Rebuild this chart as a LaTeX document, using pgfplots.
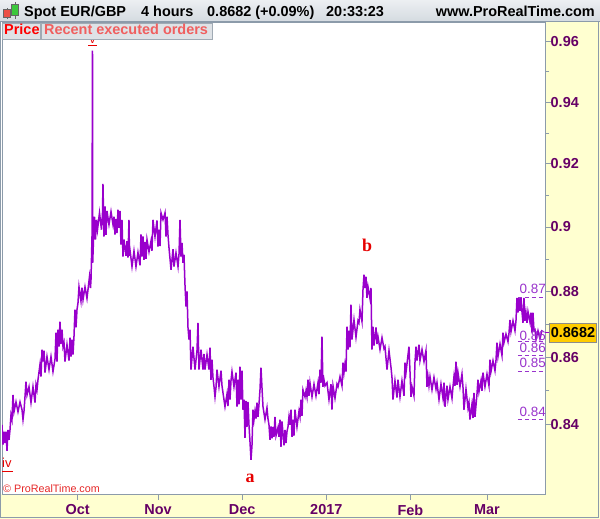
\documentclass[border=0pt]{standalone}
\usepackage{fontspec}
\setmainfont{Liberation Sans}
\newfontfamily\wavefont{Liberation Serif}
\usepackage{pgfplots}
\pgfplotsset{compat=1.18}
\definecolor{panel}{RGB}{255,255,208}
\definecolor{frame}{RGB}{140,155,170}
\definecolor{tickc}{RGB}{102,0,102}
\definecolor{bar}{RGB}{153,0,204}
\definecolor{levelc}{RGB}{153,51,204}
\definecolor{wavered}{RGB}{230,0,0}
\definecolor{copyred}{RGB}{230,40,40}
\definecolor{hdtop}{RGB}{236,239,242}
\definecolor{hdbot}{RGB}{212,218,224}
\definecolor{tabfill}{RGB}{222,226,230}
\definecolor{tabline}{RGB}{160,170,180}
\definecolor{tabred}{RGB}{240,95,95}
\definecolor{pricebox}{RGB}{255,204,0}
\definecolor{candred}{RGB}{235,80,70}
\definecolor{candgreen}{RGB}{60,200,60}

\begin{document}
\begin{tikzpicture}[x=1bp,y=1bp]
\path[use as bounding box] (0,0) rectangle (600,519);
\fill[white] (0,0) rectangle (600,519);
\fill[panel] (545,0) rectangle (600,497);
\fill[panel] (0,0) rectangle (600,25);
\draw[frame, line width=1bp] (0.5,497) -- (0.5,1.5) -- (598.5,1.5) -- (598.5,519);

\begin{axis}[
  at={(2bp,25bp)}, anchor=south west, scale only axis,
  width=543bp, height=472bp,
  xmin=-19.79, xmax=122.18,
  % price scale is logarithmic
  y coord trafo/.code={\pgfmathparse{ln(#1)}},
  y coord inv trafo/.code={\pgfmathparse{exp(#1)}},
  ymin=0.82003, ymax=0.9667,
  axis background/.style={fill=white},
  axis line style={draw=frame, line width=0.8bp},
  tick style={draw=frame, line width=0.8bp},
  tick align=outside, major tick length=6bp, minor tick length=4bp,
  xtick pos=bottom, ytick pos=right, yticklabel pos=right,
  xtick={0,21,43,65,87,107}, xticklabels={Oct,Nov,Dec,2017,Feb,Mar},
  ytick={0.84,0.86,0.88,0.9,0.92,0.94,0.96},
  yticklabels={0.84,0.86,0.88,0.9,0.92,0.94,0.96},
  minor ytick={0.85,0.87,0.89,0.91,0.93,0.95},
  tick label style={font=\bfseries\fontsize{14.5}{16}\selectfont, text=tickc},
  yticklabel style={anchor=west, inner sep=0pt, xshift=-0.5bp},
  xticklabel style={anchor=north, inner sep=0pt, yshift=-4.5bp},
]
% 4-hour high/low range, traced as a zigzag (x = trading days from 3 Oct 2016)
\addplot[bar, line width=1.5bp, line join=miter] coordinates {
(-19.79,.8400) (-19.53,.8342) (-19.27,.8380) (-19.01,.8347) (-18.74,.8380) (-18.48,.8324)
(-18.22,.8385) (-17.96,.8356) (-17.70,.8385) (-17.44,.8429) (-17.18,.8415) (-16.91,.8488)
(-16.65,.8438) (-16.13,.8467) (-15.61,.8438) (-15.08,.8467) (-14.56,.8444) (-14.30,.8415)
(-14.04,.8440) (-13.78,.8482) (-13.52,.8527) (-13.25,.8488) (-12.73,.8512) (-12.21,.8465)
(-11.69,.8512) (-11.16,.8465) (-10.90,.8518) (-10.64,.8503) (-10.38,.8533) (-9.86,.8578)
(-9.60,.8542) (-9.33,.8623) (-9.07,.8587) (-8.81,.8620) (-8.55,.8554) (-8.03,.8602)
(-7.50,.8563) (-6.98,.8602) (-6.46,.8557) (-5.93,.8595) (-5.67,.8674) (-5.41,.8587)
(-5.15,.8683) (-4.89,.8632) (-4.63,.8707) (-4.37,.8640) (-4.10,.8683) (-3.84,.8632)
(-3.58,.8644) (-3.32,.8587) (-2.80,.8638) (-2.27,.8590) (-2.01,.8659) (-1.75,.8602)
(-1.49,.8653) (-1.23,.8608) (-0.97,.8662) (-0.71,.8744) (-0.44,.8690) (-0.18,.8744)
(0.08,.8765) (0.34,.8814) (0.86,.8770) (1.12,.8811) (1.39,.8774) (1.91,.8814)
(2.43,.8778) (2.69,.8805) (3.08,.8845) (3.35,.8810) (3.48,.8836) (3.74,.8969)
(3.87,.9570) (3.93,.8888) (4.13,.8960) (4.39,.9032) (4.65,.8960) (4.92,.9022)
(5.18,.8991) (5.70,.9044) (6.22,.8991) (6.48,.9040) (6.61,.9136) (6.87,.8969)
(7.14,.9064) (7.40,.8975) (7.66,.9050) (8.18,.9007) (8.71,.9048) (9.23,.9007)
(9.49,.9032) (9.75,.8976) (10.01,.9025) (10.27,.8980) (10.53,.9054) (10.80,.8997)
(11.06,.9050) (11.32,.8944) (11.58,.9022) (11.84,.8907) (12.10,.8960) (12.63,.8910)
(12.89,.8955) (13.15,.8904) (13.41,.9022) (13.54,.8910) (13.67,.8928) (14.20,.8876)
(14.72,.8925) (15.24,.8876) (15.76,.8920) (16.29,.8880) (16.55,.8976) (16.81,.8907)
(17.07,.8970) (17.33,.8897) (17.60,.8953) (17.86,.8900) (18.12,.8960) (18.64,.8922)
(19.16,.8955) (19.42,.8925) (19.68,.9022) (20.21,.8969) (20.73,.9020) (20.99,.8938)
(21.25,.8991) (21.52,.8940) (21.78,.9044) (22.30,.9022) (22.83,.9044) (23.09,.8969)
(23.35,.9032) (23.61,.8975) (23.87,.8935) (24.40,.8866) (24.92,.8930) (25.18,.8876)
(25.70,.8919) (26.23,.8876) (26.49,.8915) (26.75,.9022) (27.01,.8907) (27.27,.8950)
(27.53,.8888) (27.79,.8913) (28.05,.8820) (28.32,.8753) (28.58,.8800) (28.84,.8689)
(29.10,.8653) (29.36,.8683) (29.62,.8563) (30.14,.8632) (30.67,.8563) (31.19,.8620)
(31.45,.8704) (31.71,.8563) (32.24,.8623) (32.76,.8563) (33.02,.8610) (33.28,.8563)
(33.81,.8608) (34.33,.8563) (34.59,.8629) (34.85,.8533) (35.11,.8593) (35.37,.8540)
(35.64,.8512) (35.90,.8482) (36.16,.8510) (36.42,.8563) (36.94,.8512) (37.47,.8560)
(37.73,.8515) (37.99,.8494) (38.51,.8453) (39.03,.8490) (39.29,.8455) (39.56,.8533)
(39.82,.8474) (40.08,.8530) (40.34,.8557) (40.86,.8512) (41.39,.8554) (41.65,.8453)
(41.91,.8533) (42.17,.8460) (42.43,.8572) (42.69,.8474) (42.96,.8560) (43.22,.8444)
(43.48,.8474) (43.74,.8362) (44.00,.8470) (44.26,.8394) (44.52,.8467) (44.78,.8400)
(45.05,.8350) (45.31,.8298) (45.57,.8340) (45.83,.8444) (46.09,.8415) (46.35,.8440)
(46.62,.8418) (46.88,.8465) (47.14,.8423) (47.40,.8460) (47.66,.8503) (47.92,.8569)
(48.18,.8510) (48.45,.8453) (48.97,.8415) (49.49,.8450) (49.75,.8418) (50.01,.8400)
(50.28,.8356) (50.54,.8395) (50.80,.8360) (51.06,.8394) (51.32,.8365) (51.58,.8423)
(51.85,.8368) (52.37,.8392) (52.63,.8365) (52.89,.8415) (53.15,.8336) (53.41,.8410)
(53.94,.8340) (54.20,.8385) (54.46,.8347) (54.72,.8380) (54.98,.8394) (55.24,.8423)
(55.50,.8400) (55.77,.8444) (56.03,.8365) (56.29,.8415) (56.55,.8368) (56.81,.8444)
(57.33,.8394) (57.86,.8440) (58.12,.8423) (58.38,.8474) (58.64,.8426) (58.90,.8503)
(59.43,.8482) (59.69,.8500) (59.95,.8482) (60.21,.8533) (60.47,.8485) (60.73,.8524)
(61.26,.8482) (61.78,.8520) (62.30,.8485) (62.83,.8524) (63.09,.8490) (63.35,.8563)
(63.61,.8524) (63.87,.8662) (64.13,.8512) (64.39,.8533) (64.66,.8515) (65.18,.8524)
(65.70,.8474) (66.22,.8520) (66.48,.8444) (66.75,.8515) (67.27,.8478) (67.79,.8520)
(68.06,.8512) (68.58,.8542) (69.10,.8515) (69.36,.8584) (69.62,.8554) (69.88,.8580)
(70.15,.8557) (70.41,.8692) (70.67,.8623) (70.93,.8680) (71.19,.8630) (71.45,.8759)
(71.71,.8653) (72.24,.8713) (72.76,.8660) (73.28,.8710) (73.54,.8704) (73.80,.8744)
(74.33,.8708) (74.59,.8805) (74.85,.8851) (75.11,.8810) (75.37,.8845) (75.63,.8780)
(75.90,.8814) (76.42,.8778) (76.68,.8810) (76.94,.8623) (77.20,.8692) (77.47,.8635)
(77.99,.8690) (78.25,.8640) (78.51,.8662) (79.04,.8623) (79.56,.8659) (80.08,.8626)
(80.34,.8632) (80.87,.8563) (81.39,.8620) (81.91,.8570) (82.17,.8540) (82.43,.8474)
(82.95,.8530) (83.48,.8480) (83.74,.8533) (84.26,.8482) (84.78,.8530) (85.31,.8485)
(85.57,.8584) (85.83,.8554) (86.09,.8580) (86.61,.8632) (86.88,.8557) (87.14,.8482)
(87.40,.8512) (87.92,.8485) (88.18,.8584) (88.45,.8632) (88.71,.8590) (89.23,.8638)
(89.49,.8590) (90.02,.8623) (90.54,.8587) (91.06,.8620) (91.32,.8512) (91.58,.8542)
(91.84,.8515) (92.11,.8542) (92.63,.8503) (93.15,.8540) (93.68,.8505) (93.94,.8524)
(94.46,.8474) (94.98,.8520) (95.51,.8478) (95.77,.8524) (96.03,.8453) (96.55,.8515)
(96.81,.8474) (97.34,.8512) (97.86,.8478) (98.12,.8512) (98.38,.8542) (98.64,.8515)
(98.90,.8587) (99.17,.8518) (99.43,.8554) (99.95,.8512) (100.47,.8550) (100.73,.8512)
(100.99,.8444) (101.52,.8505) (102.04,.8450) (102.30,.8465) (102.56,.8415) (103.08,.8460)
(103.35,.8420) (103.61,.8494) (103.87,.8423) (104.39,.8490) (104.65,.8533) (104.91,.8497)
(105.44,.8530) (105.70,.8500) (105.96,.8554) (106.48,.8512) (107.01,.8550) (107.53,.8515)
(107.79,.8593) (108.05,.8557) (108.58,.8590) (109.10,.8560) (109.36,.8590) (109.62,.8644)
(109.88,.8602) (110.41,.8640) (110.93,.8605) (111.19,.8674) (111.45,.8644) (111.97,.8670)
(112.50,.8647) (112.76,.8672) (113.02,.8713) (113.28,.8677) (113.81,.8710) (114.33,.8680)
(114.59,.8710) (114.85,.8780) (115.11,.8735) (115.37,.8780) (115.64,.8740) (115.90,.8780)
(116.16,.8738) (116.42,.8704) (116.68,.8780) (116.94,.8710) (117.20,.8735) (117.47,.8704)
(117.73,.8738) (118.25,.8706) (118.51,.8735) (118.77,.8674) (119.03,.8735) (119.30,.8680)
(119.56,.8683) (119.82,.8653) (120.34,.8680) (120.86,.8655) (121.39,.8682)
};
% recent swing levels
\addplot[levelc, line width=1bp, dash pattern=on 4bp off 3bp] coordinates {(115.1,.8780) (122.18,.8780)};
\addplot[levelc, line width=1bp, dash pattern=on 4bp off 3bp] coordinates {(115.1,.8647) (122.18,.8647)};
\addplot[levelc, line width=1bp, dash pattern=on 4bp off 3bp] coordinates {(115.1,.8605) (122.18,.8605)};
\addplot[levelc, line width=1bp, dash pattern=on 4bp off 3bp] coordinates {(115.1,.8557) (122.18,.8557)};
\addplot[levelc, line width=1bp, dash pattern=on 4bp off 3bp] coordinates {(115.1,.8415) (122.18,.8415)};
\end{axis}

% level labels (cut at the price scale)
\begin{scope}[every node/.style={anchor=base west, inner sep=0pt, text=levelc, font=\fontsize{13.5}{14}\selectfont}]
\node at (519.5,225) {0.87};
\node at (519.5,178) {0.86};
\node at (519.5,166) {0.86};
\node at (519.5,151) {0.85};
\node at (519.5,102) {0.84};
\end{scope}

% wave labels
\node[text=wavered, font=\wavefont\bfseries\fontsize{18}{18}\selectfont, inner sep=0pt] at (250,41) {a};
\node[text=wavered, font=\wavefont\bfseries\fontsize{18}{18}\selectfont, inner sep=0pt] at (367,274) {b};
\node[anchor=base west, inner sep=0pt, text=wavered, font=\fontsize{13}{13}\selectfont] at (2,51) {iv};
\draw[wavered, line width=1bp] (2,47) -- (13,47);
\node[anchor=base, inner sep=0pt, text=wavered, font=\bfseries\fontsize{7}{7}\selectfont] at (92.5,475.5) {v};
\draw[wavered, line width=1bp] (88,473) -- (97,473);
\node[anchor=base west, inner sep=0pt, text=copyred, font=\fontsize{10.8}{11}\selectfont] at (3,26.5) {© ProRealTime.com};

% current price
\draw[bar, line width=1bp] (545,186.5) -- (549,186.5);
\node[fill=pricebox, draw=black!45, inner sep=1.5bp, minimum height=19bp, font=\bfseries\fontsize{14.5}{16}\selectfont] at (573,186.5) {0.8682};

% header
\shade[top color=hdtop, bottom color=hdbot] (0,497) rectangle (600,519);
\draw[frame, line width=1bp] (0,497.5) -- (600,497.5);
\draw[black!60] (7,500) -- (7,511);
\filldraw[fill=candred, draw=black!60] (3.5,501.5) rectangle (10.5,509.5);
\draw[black!60] (15,500) -- (15,517);
\filldraw[fill=candgreen, draw=black!60] (11.5,503.5) rectangle (18.5,514.5);
\begin{scope}[every node/.style={anchor=base west, inner sep=0pt, font=\bfseries\fontsize{14.5}{16}\selectfont}]
\node at (24,502) {Spot EUR/GBP};
\node at (141,502) {4 hours};
\node at (207,502) {0.8682 (+0.09\%)};
\node at (326,502) {20:33:23};
\node[anchor=base east] at (595,502) {www.ProRealTime.com};
\end{scope}

% tabs
\filldraw[fill=tabfill, draw=tabline] (2,480) rectangle (40.5,496);
\filldraw[fill=tabfill, draw=tabline] (41.5,480) rectangle (212,496);
\node[anchor=base west, inner sep=0pt, text=red, font=\bfseries\fontsize{14.5}{16}\selectfont] at (4,484) {Price};
\node[anchor=base west, inner sep=0pt, text=tabred, font=\bfseries\fontsize{14.5}{16}\selectfont] at (44,484) {Recent executed orders};
\end{tikzpicture}
\end{document}
